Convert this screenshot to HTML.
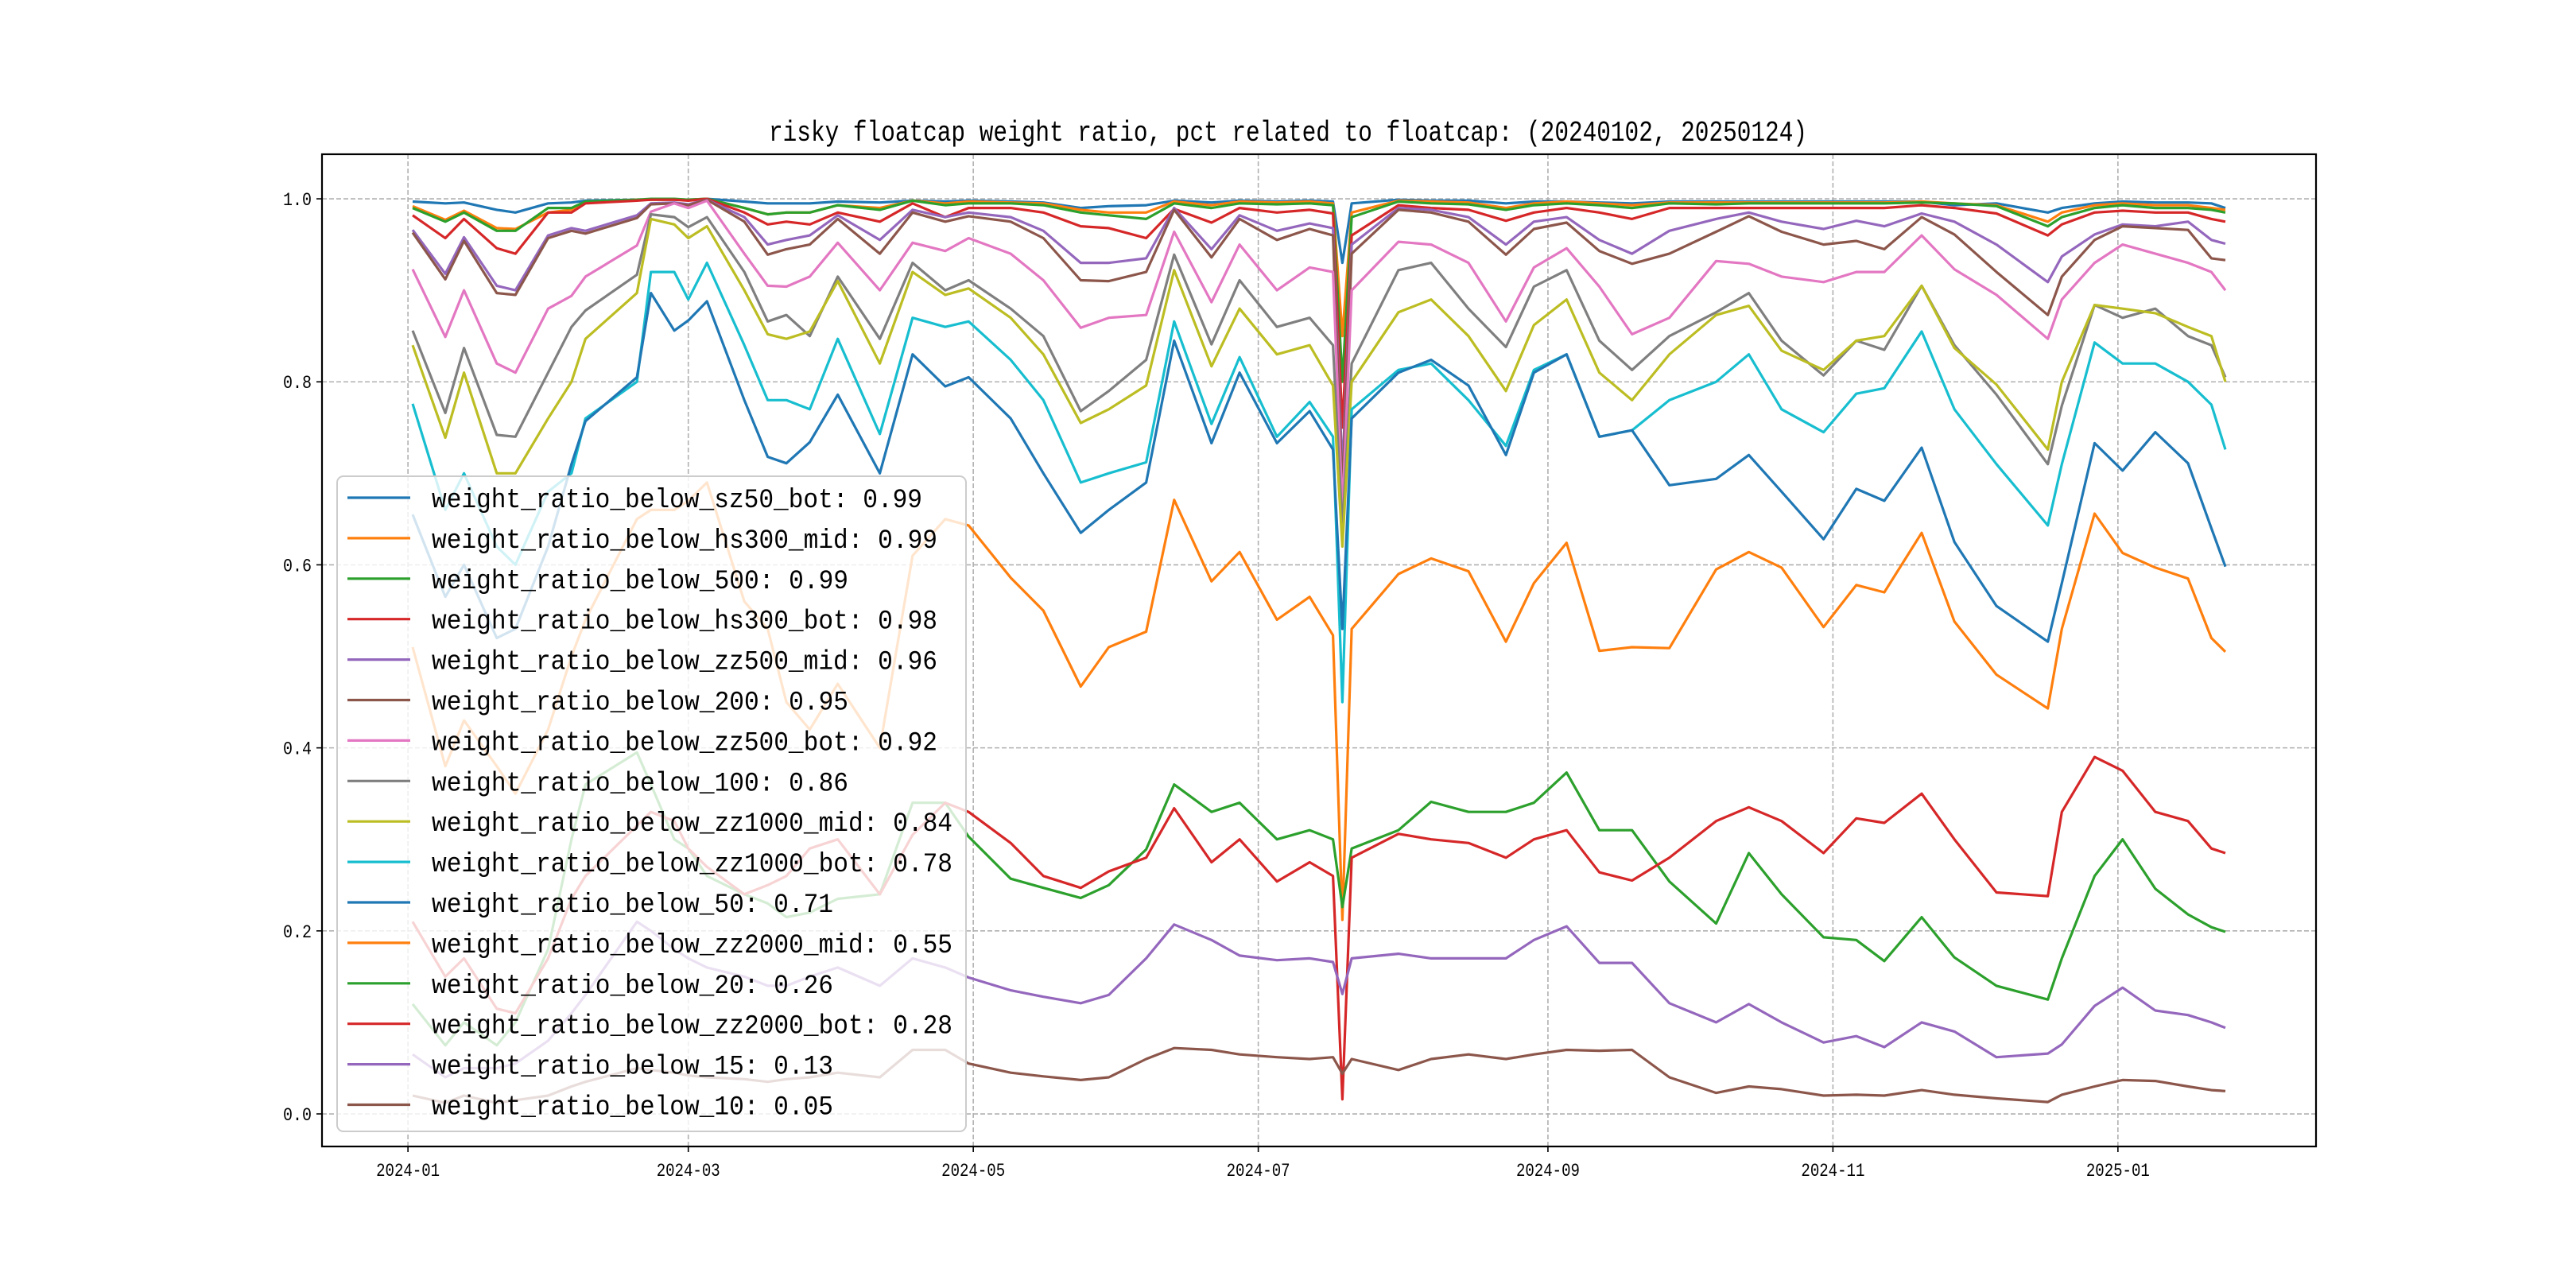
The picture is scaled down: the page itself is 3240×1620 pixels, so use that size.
<!DOCTYPE html>
<html><head><meta charset="utf-8"><title>risky floatcap weight ratio</title>
<style>html,body{margin:0;padding:0;background:#fff}svg{display:block}</style></head>
<body>
<svg id="chart" xmlns="http://www.w3.org/2000/svg" width="3240" height="1620" viewBox="0 0 3240 1620">
<rect x="0" y="0" width="3240" height="1620" fill="#fff"/>
<text x="1620" y="177" text-anchor="middle" font-family="Liberation Mono, monospace" font-size="36" textLength="1306" lengthAdjust="spacingAndGlyphs" fill="#000">risky floatcap weight ratio, pct related to floatcap: (20240102, 20250124)</text>
<g id="grid"></g>
<g id="series"></g>
<rect x="405" y="194" width="2508" height="1248" fill="none" stroke="#000" stroke-width="2.2"/>
<g id="axes"></g>
<g id="legend"></g>
</svg>
<script>
const days = [1,8,12,19,23,30,35,38,49,52,57,60,64,72,77,81,86,92,101,108,115,120,129,136,144,150,158,164,172,178,186,193,198,200,202,212,219,227,235,241,248,255,262,270,280,287,294,303,310,316,324,331,340,351,354,361,367,374,381,386,389];
const seriesNames = ["weight_ratio_below_sz50_bot","weight_ratio_below_hs300_mid","weight_ratio_below_500","weight_ratio_below_hs300_bot","weight_ratio_below_zz500_mid","weight_ratio_below_200","weight_ratio_below_zz500_bot","weight_ratio_below_100","weight_ratio_below_zz1000_mid","weight_ratio_below_zz1000_bot","weight_ratio_below_50","weight_ratio_below_zz2000_mid","weight_ratio_below_20","weight_ratio_below_zz2000_bot","weight_ratio_below_15","weight_ratio_below_10"];
const legendValues = ["0.99","0.99","0.99","0.98","0.96","0.95","0.92","0.86","0.84","0.78","0.71","0.55","0.26","0.28","0.13","0.05"];
const s0 = [.997,.995,.996,.988,.985,.995,.996,.998,.999,.999,.999,.999,1.0,.997,.995,.995,.995,.997,.996,.998,.997,.998,.997,.996,.99,.992,.993,.998,.996,.998,.997,.998,.997,.93,.995,.999,.998,.998,.995,.997,.997,.996,.995,.997,.997,.997,.997,.997,.997,.997,.997,.993,.995,.985,.99,.995,.997,.996,.996,.995,.99];
const s1 = [.992,.977,.987,.968,.967,.985,.988,.996,.999,.999,.999,.999,1.0,.99,.983,.985,.985,.993,.99,.998,.995,.997,.996,.995,.988,.985,.985,.997,.993,.997,.996,.997,.995,.85,.985,.998,.997,.996,.99,.995,.997,.995,.993,.996,.996,.996,.996,.996,.996,.996,.997,.995,.993,.975,.985,.993,.995,.993,.993,.99,.988];
const s2 = [.99,.975,.985,.965,.965,.99,.99,.997,.999,1.0,1.0,.999,1.0,.99,.983,.985,.985,.993,.988,.998,.993,.995,.995,.993,.985,.982,.978,.995,.99,.995,.994,.995,.993,.80,.98,.997,.995,.994,.988,.993,.995,.993,.99,.995,.994,.995,.995,.995,.995,.995,.996,.995,.992,.97,.98,.99,.993,.99,.99,.988,.985];
const s3 = [.982,.957,.978,.946,.94,.985,.985,.995,.998,.999,.999,.998,1.0,.985,.972,.975,.972,.985,.975,.995,.98,.99,.99,.985,.97,.968,.957,.989,.974,.99,.985,.988,.984,.75,.96,.993,.99,.988,.976,.985,.99,.985,.978,.99,.99,.99,.99,.99,.99,.99,.993,.99,.984,.96,.972,.985,.987,.985,.985,.978,.975];
const s4 = [.966,.918,.958,.905,.90,.96,.968,.965,.982,.995,.996,.994,.999,.98,.95,.955,.96,.982,.955,.988,.98,.985,.98,.965,.93,.93,.935,.99,.945,.982,.965,.973,.968,.70,.95,.99,.988,.98,.95,.975,.98,.955,.94,.965,.978,.985,.975,.967,.976,.97,.984,.975,.95,.909,.937,.961,.972,.97,.975,.955,.951];
const s5 = [.963,.912,.954,.897,.895,.957,.965,.962,.979,.994,.995,.993,.999,.975,.939,.945,.95,.978,.94,.985,.975,.981,.975,.957,.911,.91,.92,.988,.936,.978,.955,.967,.96,.68,.94,.988,.985,.975,.939,.967,.974,.943,.929,.94,.964,.981,.964,.95,.954,.945,.98,.961,.92,.873,.915,.955,.97,.968,.966,.935,.933];
const s6 = [.923,.849,.90,.82,.81,.88,.894,.915,.949,.986,.995,.99,.998,.94,.905,.904,.915,.952,.90,.952,.943,.957,.94,.911,.859,.87,.873,.964,.887,.95,.90,.925,.92,.66,.90,.953,.95,.93,.866,.925,.946,.904,.852,.87,.932,.929,.915,.909,.92,.92,.96,.923,.895,.847,.89,.93,.95,.94,.93,.92,.90];
const s7 = [.856,.766,.837,.742,.74,.81,.86,.878,.917,.983,.98,.969,.98,.92,.866,.873,.85,.915,.847,.93,.90,.911,.88,.85,.768,.79,.824,.939,.841,.911,.86,.87,.84,.64,.82,.922,.93,.88,.838,.904,.922,.845,.813,.85,.876,.897,.845,.807,.845,.835,.905,.84,.786,.71,.774,.884,.87,.88,.85,.84,.805];
const s8 = [.84,.739,.81,.70,.70,.76,.80,.847,.897,.978,.972,.957,.97,.90,.852,.847,.855,.91,.82,.92,.895,.902,.87,.83,.755,.77,.796,.922,.817,.88,.83,.84,.796,.62,.80,.876,.89,.85,.79,.862,.89,.81,.78,.83,.873,.883,.834,.813,.845,.85,.905,.837,.797,.726,.80,.884,.88,.875,.86,.85,.80];
const s9 = [.776,.66,.70,.62,.60,.68,.70,.76,.80,.92,.92,.89,.93,.84,.78,.78,.77,.847,.743,.87,.86,.866,.824,.78,.69,.70,.712,.866,.754,.827,.74,.778,.74,.45,.77,.813,.82,.78,.73,.813,.83,.74,.747,.78,.80,.83,.77,.745,.787,.793,.855,.77,.71,.643,.71,.843,.82,.82,.80,.775,.726];
const s10 = [.655,.565,.60,.52,.53,.62,.71,.757,.805,.897,.856,.867,.888,.78,.718,.711,.734,.786,.70,.83,.795,.805,.76,.70,.635,.66,.69,.845,.733,.81,.733,.768,.726,.53,.76,.81,.824,.796,.72,.81,.83,.74,.747,.687,.694,.72,.68,.628,.683,.67,.728,.625,.555,.516,.58,.733,.703,.745,.711,.64,.598];
const s11 = [.51,.38,.43,.38,.35,.42,.50,.54,.65,.66,.66,.67,.69,.56,.53,.45,.42,.47,.40,.61,.65,.643,.586,.55,.467,.51,.527,.671,.582,.614,.54,.565,.523,.212,.53,.59,.607,.593,.516,.58,.624,.506,.51,.509,.595,.614,.597,.532,.578,.57,.635,.538,.48,.443,.53,.656,.613,.597,.585,.52,.505];
const s12 = [.12,.075,.10,.075,.10,.18,.30,.36,.395,.36,.30,.29,.26,.24,.23,.215,.22,.235,.24,.34,.34,.303,.257,.247,.236,.25,.289,.36,.33,.34,.30,.31,.30,.226,.29,.31,.341,.33,.33,.34,.373,.31,.31,.254,.208,.285,.24,.193,.19,.167,.215,.171,.14,.125,.17,.26,.30,.246,.218,.204,.199];
const s13 = [.21,.15,.17,.115,.11,.17,.235,.26,.315,.33,.32,.29,.27,.24,.25,.26,.29,.30,.24,.305,.34,.33,.296,.26,.247,.265,.28,.334,.275,.30,.254,.275,.26,.016,.28,.306,.30,.296,.28,.30,.31,.264,.255,.28,.32,.335,.32,.285,.323,.318,.35,.30,.242,.238,.33,.39,.375,.33,.32,.29,.285];
const s14 = [.065,.04,.05,.05,.055,.08,.11,.13,.21,.20,.18,.17,.16,.15,.14,.14,.15,.16,.14,.17,.16,.149,.135,.128,.121,.13,.17,.207,.19,.173,.168,.17,.166,.131,.17,.175,.17,.17,.17,.19,.205,.165,.165,.121,.10,.12,.10,.078,.085,.073,.10,.09,.062,.066,.076,.118,.138,.113,.108,.10,.094];
const s15 = [.02,.012,.02,.012,.015,.02,.03,.035,.05,.048,.045,.042,.04,.038,.035,.038,.04,.045,.04,.07,.07,.055,.045,.041,.037,.04,.06,.072,.07,.065,.062,.06,.062,.044,.06,.048,.06,.065,.06,.065,.07,.069,.07,.04,.023,.03,.027,.02,.021,.02,.026,.021,.017,.013,.021,.03,.037,.036,.03,.026,.025];
const yTicks = [0,0.2,0.4,0.6,0.8,1.0];
const yTickLabels = ["0.0","0.2","0.4","0.6","0.8","1.0"];
const xTickDays = [0,60,121,182,244,305,366];
const xTickLabels = ["2024-01","2024-03","2024-05","2024-07","2024-09","2024-11","2025-01"];

const allSeries = [s0,s1,s2,s3,s4,s5,s6,s7,s8,s9,s10,s11,s12,s13,s14,s15];
const colors = ["#1f77b4","#ff7f0e","#2ca02c","#d62728","#9467bd","#8c564b","#e377c2","#7f7f7f","#bcbd22","#17becf","#1f77b4","#ff7f0e","#2ca02c","#d62728","#9467bd","#8c564b"];
const NS = "http://www.w3.org/2000/svg";
const X0 = 405, X1 = 2913, Y0 = 194, Y1 = 1442;
const dMin = -18.4, dMax = 408.4, vMin = -0.0356, vMax = 1.0487;
function xScale(d){ return X0 + (d - dMin) / (dMax - dMin) * (X1 - X0); }
function yScale(v){ return Y1 - (v - vMin) / (vMax - vMin) * (Y1 - Y0); }
function mk(tag, attrs, parent){ const e = document.createElementNS(NS, tag); for (const k in attrs) e.setAttribute(k, attrs[k]); parent.appendChild(e); return e; }

const grid = document.getElementById('grid');
const axes = document.getElementById('axes');
yTicks.forEach((v, i) => {
  const y = yScale(v);
  const gl = mk('line', {x1: X0, x2: X1, y1: y, y2: y, stroke: '#b0b0b0', 'stroke-width': 1.6, 'stroke-dasharray': '6,3'}, grid);
  
  
  const tk = mk('line', {x1: X0 - 7, x2: X0, y1: y, y2: y, stroke: '#000', 'stroke-width': 1.6}, axes);
  
  
  const t = mk('text', {x: X0 - 13, y: y + 8, 'text-anchor': 'end', 'font-family': 'Liberation Mono, monospace', 'font-size': 23, fill: '#000', textLength: 36, lengthAdjust: 'spacingAndGlyphs'}, axes);
  t.textContent = yTickLabels[i];
  
  
});
xTickDays.forEach((d, i) => {
  const x = xScale(d);
  const gl = mk('line', {x1: x, x2: x, y1: Y0, y2: Y1, stroke: '#b0b0b0', 'stroke-width': 1.6, 'stroke-dasharray': '6,3'}, grid);
  
  
  const tk = mk('line', {x1: x, x2: x, y1: Y1, y2: Y1 + 7, stroke: '#000', 'stroke-width': 1.6}, axes);
  
  
  const t = mk('text', {x: x, y: Y1 + 37, 'text-anchor': 'middle', 'font-family': 'Liberation Mono, monospace', 'font-size': 23, fill: '#000', textLength: 80, lengthAdjust: 'spacingAndGlyphs'}, axes);
  t.textContent = xTickLabels[i];
  
  
});

const sg = document.getElementById('series');
allSeries.forEach((vals, si) => {
  const pts = vals.map((v, i) => xScale(days[i]).toFixed(1) + ',' + yScale(v).toFixed(1)).join(' ');
  const pl = mk('polyline', {points: pts, fill: 'none', stroke: colors[si], 'stroke-width': 3.2, 'stroke-linejoin': 'round'}, sg);
  
  
});

const lg = document.getElementById('legend');
const box = mk('rect', {x: 424, y: 599, width: 791, height: 824, rx: 8, fill: '#fff', 'fill-opacity': 0.8, stroke: '#cccccc', 'stroke-width': 2}, lg);


seriesNames.forEach((n, i) => {
  const y = 626 + i * 50.9;
  const ln = mk('line', {x1: 437, x2: 516, y1: y, y2: y, stroke: colors[i], 'stroke-width': 3.2}, lg);
  
  
  const label = n + ': ' + legendValues[i];
  const t = mk('text', {x: 543, y: y + 12, 'font-family': 'Liberation Mono, monospace', 'font-size': 34, fill: '#000', textLength: (label.length * 18.7).toFixed(0), lengthAdjust: 'spacingAndGlyphs'}, lg);
  t.textContent = label;
  
  
});
</script>
</body></html>
